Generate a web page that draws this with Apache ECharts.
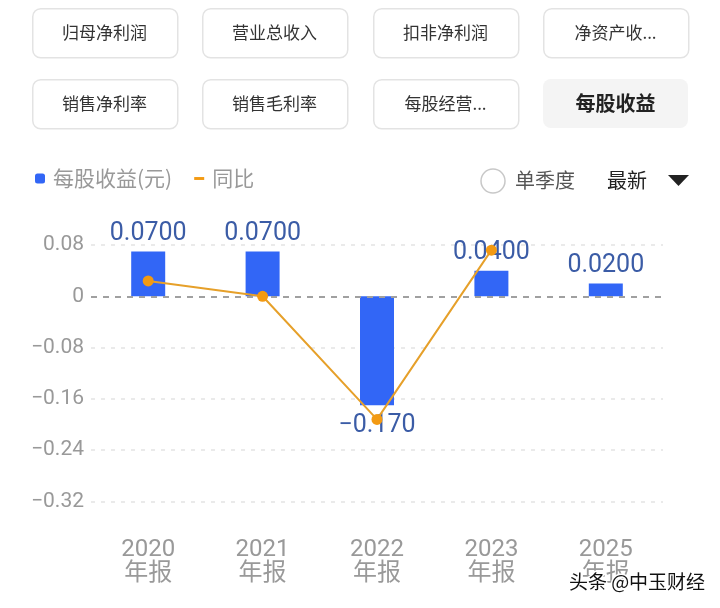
<!DOCTYPE html>
<html><head><meta charset="utf-8">
<script src="https://cdn.jsdelivr.net/npm/echarts@6/dist/echarts.min.js"></script>
<style>html,body{margin:0;padding:0;background:#fff}#c{width:720px;height:608px}</style>
</head><body><div id="c"></div>
<script>
var categories = ['2020\n年报', '2021\n年报', '2022\n年报', '2023\n年报', '2025\n年报'];
var epsValues = [0.07, 0.07, -0.17, 0.04, 0.02];
var epsLabels = ['0.0700', '0.0700', '\u22120.170', '0.0400', '0.0200'];
var yoyValues = [0.024, 0, -0.192, 0.072, null];
var yTicks = [-0.32, -0.24, -0.16, -0.08, 0, 0.08];
var buttonsRow1 = ['归母净利润', '营业总收入', '扣非净利润', '净资产收...'];
var buttonsRow2 = ['销售净利率', '销售毛利率', '每股经营...', '每股收益'];

var FONT = '"Noto Sans CJK SC", Roboto, sans-serif';
var NUMFONT = 'Roboto, "Noto Sans CJK SC", sans-serif';

var graphics = [];
var bx = [32, 202, 373, 543];
function addBtn(x, y, txt, active) {
  graphics.push({
    type: 'rect', left: x, top: y,
    shape: {width: 145, height: 49, r: 8},
    style: active ? {fill: '#f4f4f4', stroke: null} : {fill: '#fff', stroke: '#e3e3e3', lineWidth: 1.5}
  });
  graphics.push({
    type: 'text', x: x + 72.5, y: y + 24.5,
    style: {text: txt, fill: active ? '#222' : '#333', font: (active ? 'bold 20px ' : '17px ') + FONT,
            textAlign: 'center', textVerticalAlign: 'middle'}
  });
}
buttonsRow1.forEach(function (t, i) { addBtn(bx[i], 8, t, false); });
buttonsRow2.forEach(function (t, i) { addBtn(bx[i], 79, t, i === 3); });

graphics.push({type: 'circle', shape: {cx: 493, cy: 181, r: 12}, style: {fill: '#fff', stroke: '#c8c8c8', lineWidth: 1.5}});
graphics.push({type: 'text', x: 515, y: 180, style: {text: '单季度', fill: '#555', font: '20px ' + FONT, textVerticalAlign: 'middle'}});
graphics.push({type: 'text', x: 607, y: 180, style: {text: '最新', fill: '#222', font: '20px ' + FONT, textVerticalAlign: 'middle'}});
graphics.push({type: 'polygon', shape: {points: [[668, 175], [689, 175], [678.5, 186]]}, style: {fill: '#222'}});
graphics.push({type: 'text', x: 637, y: 582, z: 100,
  style: {text: '头条 @中玉财经', fill: '#111', stroke: '#fff', lineWidth: 3, font: '19px ' + FONT,
          textAlign: 'center', textVerticalAlign: 'middle'}});

function fmtTick(v) {
  var r = parseFloat(v.toFixed(2));
  if (r === 0) return '0';
  return r < 0 ? '\u2212' + String(-r) : String(r);
}

var chart = echarts.init(document.getElementById('c'), null, {renderer: 'canvas'});
chart.setOption({
  animation: false,
  backgroundColor: '#fff',
  graphic: graphics,
  legend: {
    left: 30, top: 163, itemWidth: 10, itemHeight: 10, itemGap: 22,
    textStyle: {color: '#999', fontSize: 21, fontFamily: FONT, padding: [0, 0, 0, 3]},
    data: [
      {name: '每股收益(元)', icon: 'roundRect'},
      {name: '同比', icon: 'path://M0,0h12v3.5h-12z'}
    ]
  },
  grid: {left: 91, right: 57, top: 245, bottom: 106.5},
  xAxis: {
    type: 'category', data: categories, boundaryGap: true,
    axisLine: {show: false, onZero: false}, axisTick: {show: false},
    axisLabel: {color: '#999', fontSize: 24, lineHeight: 24, fontFamily: NUMFONT, margin: 36}
  },
  yAxis: [{
    type: 'value', min: yTicks[0], max: yTicks[yTicks.length - 1], interval: 0.08,
    axisLine: {show: false}, axisTick: {show: false},
    axisLabel: {color: '#999', fontSize: 21, fontFamily: NUMFONT, margin: 7, formatter: fmtTick},
    splitLine: {show: true, lineStyle: {color: ['#e4e4e4', '#e4e4e4', '#e4e4e4', '#e4e4e4', 'rgba(0,0,0,0)', '#e4e4e4'], type: [4, 6], width: 1.5}}
  }, {
    type: 'value', min: yTicks[0], max: yTicks[yTicks.length - 1], interval: 0.08, show: false,
    splitLine: {show: false}
  }],
  series: [{
    name: '每股收益(元)', type: 'bar', barWidth: 34,
    data: epsValues.map(function (v) { return v < 0 ? {value: v, label: {position: 'bottom', distance: 8}} : v; }),
    itemStyle: {color: '#3266f6'},
    label: {
      show: true, position: 'top', distance: 5, color: '#3b5ca6', fontSize: 25, fontFamily: NUMFONT,
      formatter: function (p) { return epsLabels[p.dataIndex]; }
    },
    markLine: {
      silent: true, symbol: 'none', label: {show: false},
      lineStyle: {color: '#a0a0a0', type: [6, 6], width: 2},
      data: [{yAxis: 0}]
    }
  }, {
    name: '同比', type: 'line', yAxisIndex: 1, data: yoyValues,
    symbol: 'circle', symbolSize: 11, z: 5,
    lineStyle: {color: '#e6a02a', width: 2},
    itemStyle: {color: '#f39a12'}
  }]
});
</script></body></html>
